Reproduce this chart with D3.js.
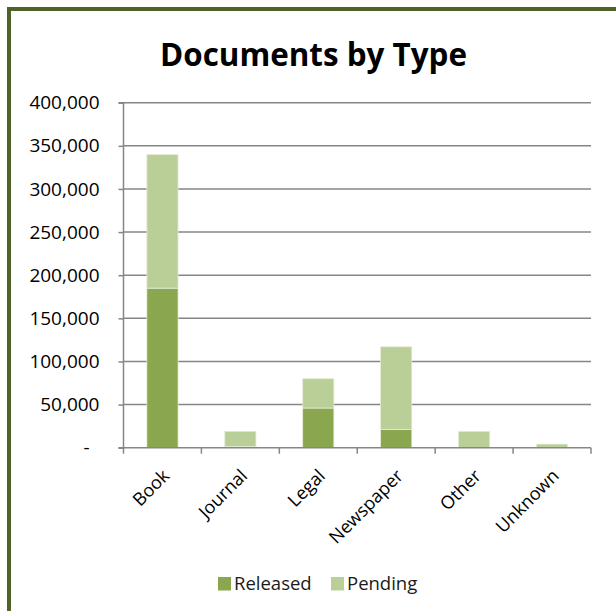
<!DOCTYPE html>
<html>
<head>
<meta charset="utf-8">
<script src="https://cdn.jsdelivr.net/npm/d3@7"></script>
<style>
  body { margin: 0; background: #fff; }
  svg { display: block; font-family: 'Open Sans', sans-serif; }
</style>
</head>
<body>
<div id="chart"></div>
<script>
// Chart data
const categories = ['Book', 'Journal', 'Legal', 'Newspaper', 'Other', 'Unknown'];
const released = [185000, 1500, 46000, 21000, 0, 0];
const pending = [155000, 17500, 34000, 96000, 19000, 4200];
const seriesNames = ['Released', 'Pending'];
const yTicks = [0, 50000, 100000, 150000, 200000, 250000, 300000, 350000, 400000];

const width = 616;
const height = 611;
const colours = { Released: '#8aa64e', Pending: '#bacf98' };
const gridColour = '#868686';

// Plot area
const plot = { left: 123.5, right: 591, top: 102.7, bottom: 447.7 };

const x = d3.scaleBand()
  .domain(categories)
  .range([plot.left, plot.right])
  .paddingInner(0.6)
  .paddingOuter(0.3);

const y = d3.scaleLinear()
  .domain([0, 400000])
  .range([plot.bottom, plot.top]);

const svg = d3.select('#chart')
  .append('svg')
  .attr('width', width)
  .attr('height', height);

// Frame (only top and left edges show in the crop)
svg.append('rect')
  .attr('x', 9)
  .attr('y', 9)
  .attr('width', 800)
  .attr('height', 800)
  .attr('fill', 'none')
  .attr('stroke', '#4f6228')
  .attr('stroke-width', 4);

// Title, fitted to the width it takes in the reference
const title = svg.append('text')
  .attr('x', 313.5)
  .attr('y', 66)
  .attr('text-anchor', 'middle')
  .style('font-weight', 700)
  .style('font-size', '30px')
  .attr('fill', '#000')
  .text('Documents by Type');
const titleWidth = title.node().getComputedTextLength();
title.style('font-size', `${(30 * 307) / titleWidth}px`);

// Gridlines
svg.append('g')
  .selectAll('line')
  .data(yTicks.filter(d => d > 0))
  .enter().append('line')
  .attr('x1', plot.left)
  .attr('x2', plot.right)
  .attr('y1', d => y(d))
  .attr('y2', d => y(d))
  .attr('stroke', gridColour)
  .attr('stroke-width', 1.5);

// Stacked bars
const rows = categories.map((c, i) => ({ category: c, Released: released[i], Pending: pending[i] }));
const stacked = d3.stack().keys(seriesNames)(rows);

svg.append('g')
  .selectAll('g')
  .data(stacked)
  .enter().append('g')
  .attr('fill', d => colours[d.key])
  .selectAll('rect')
  .data(d => d.filter(s => s[1] > s[0]))
  .enter().append('rect')
  .attr('x', d => x(d.data.category))
  .attr('width', x.bandwidth())
  .attr('y', d => y(d[1]))
  .attr('height', d => y(d[0]) - y(d[1]))
  .attr('stroke', '#e4ecd6')
  .attr('stroke-width', 0.8);

// Y axis
const yAxis = d3.axisLeft(y)
  .tickValues(yTicks)
  .tickSize(5)
  .tickPadding(19)
  .tickFormat(d => (d === 0 ? '-' : d3.format(',')(d)));

const yAxisG = svg.append('g')
  .attr('transform', `translate(${plot.left},0)`)
  .call(yAxis);
yAxisG.select('.domain').attr('stroke', gridColour).attr('stroke-width', 1.5)
  .attr('d', `M-5,${plot.top}H0V${plot.bottom}H-5`);
yAxisG.selectAll('.tick line').attr('stroke', gridColour).attr('stroke-width', 1.5);
yAxisG.selectAll('.tick text')
  .attr('fill', '#000')
  .style('font-size', '19px')
  .style('font-family', "'Open Sans', sans-serif")
  .attr('dx', d => (d === 0 ? -10 : 0));

// X axis: baseline with ticks at category boundaries
const boundaries = categories.map(c => x(c) - (x.step() * x.paddingInner()) / 2);
boundaries[0] = plot.left;
boundaries.push(plot.right);

svg.append('line')
  .attr('x1', plot.left)
  .attr('x2', plot.right)
  .attr('y1', plot.bottom)
  .attr('y2', plot.bottom)
  .attr('stroke', gridColour)
  .attr('stroke-width', 1.5);

svg.append('g')
  .selectAll('line')
  .data(boundaries)
  .enter().append('line')
  .attr('x1', d => d)
  .attr('x2', d => d)
  .attr('y1', plot.bottom)
  .attr('y2', plot.bottom + 6)
  .attr('stroke', gridColour)
  .attr('stroke-width', 1.5);

// Rotated category labels
svg.append('g')
  .selectAll('text')
  .data(categories)
  .enter().append('text')
  .attr('transform', d => `translate(${x(d) + x.bandwidth() / 2 + 8},477)rotate(-45)`)
  .attr('text-anchor', 'end')
  .attr('fill', '#000')
  .style('font-size', '18px')
  .text(d => d);

// Legend
const legendItems = [
  { name: 'Released', x: 218 },
  { name: 'Pending', x: 331 },
];
const legend = svg.append('g')
  .selectAll('g')
  .data(legendItems)
  .enter().append('g')
  .attr('transform', d => `translate(${d.x},577)`);
legend.append('rect')
  .attr('width', 13)
  .attr('height', 13.5)
  .attr('fill', d => colours[d.name]);
legend.append('text')
  .attr('x', 16)
  .attr('y', 13)
  .attr('fill', '#1a1a1a')
  .style('font-size', '18.5px')
  .text(d => d.name);
</script>
</body>
</html>
